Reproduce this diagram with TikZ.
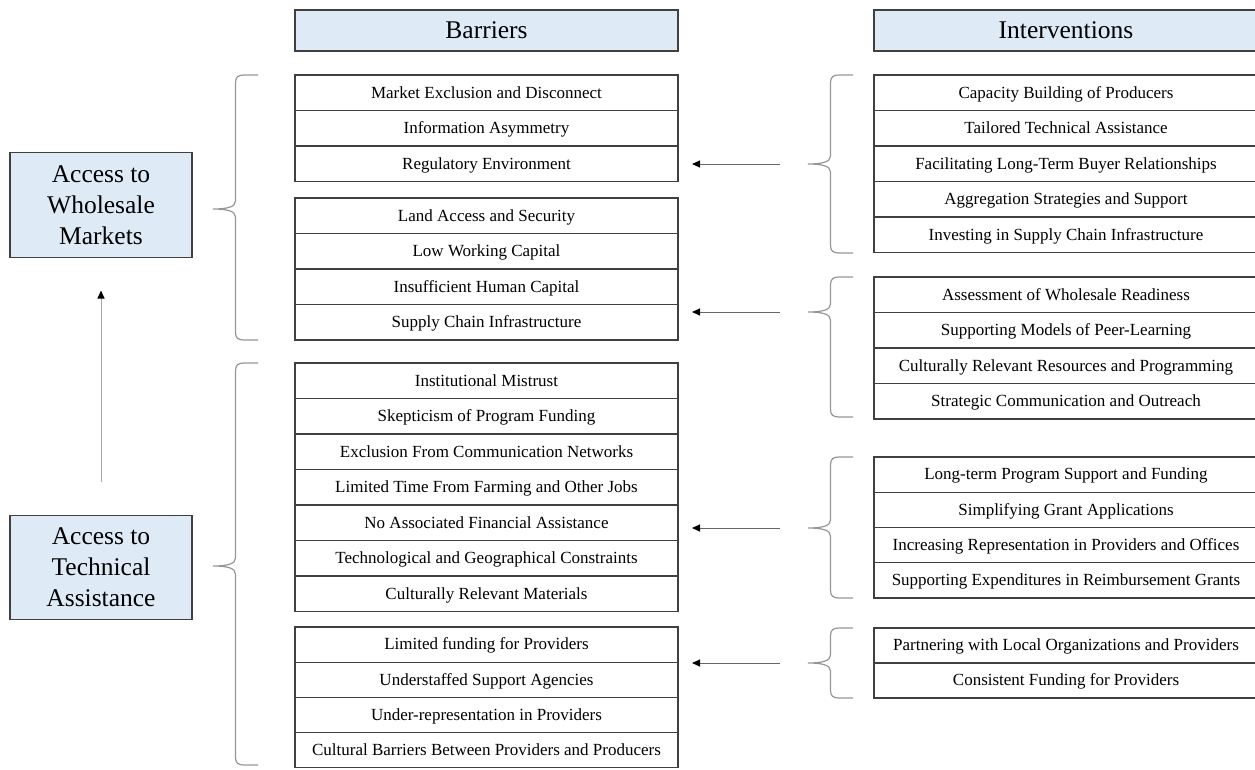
\documentclass[tikz,border=0pt]{standalone}
\usepackage{fontspec}
\setmainfont{Liberation Serif}
\usepackage{xcolor}
\definecolor{headblue}{RGB}{222,235,247}
\definecolor{rulegray}{RGB}{64,64,64}
\definecolor{bracegray}{RGB}{150,150,150}
\usepackage{tikz}
\usetikzlibrary{positioning,arrows.meta,calc}
\tikzset{
  headbox/.style ={rectangle,draw=rulegray,fill=headblue,line width=1.2pt,inner sep=0pt,outer sep=0pt,
                   minimum height=41pt,text height=17.5pt,text depth=1pt,font=\fontsize{25.5}{31}\selectfont},
  access/.style  ={headbox,align=center,minimum width=182pt,minimum height=105pt,text height=,text depth=},
  cell/.style    ={rectangle,draw=rulegray,line width=1.3pt,inner sep=0pt,outer sep=0pt,
                   minimum height=35.5pt,text height=12pt,text depth=1.5pt,font=\fontsize{17}{20}\selectfont},
  barrier/.style ={cell,minimum width=383pt},
  remedy/.style  ={cell,minimum width=384pt},
  bracepath/.style={draw=bracegray,line width=1.2pt},
  push/.style    ={-{Triangle[length=8pt,width=7pt,color=black]},line width=1pt,draw=black!60},
}
% #1 tip name, #2 x of the ends, #3 top, #4 bottom, #5 y of the tip
\newcommand{\openbrace}[5]{%
  \draw[bracepath] (#2,#3) -- (#2-14,#3) .. controls (#2-20,#3) and (#2-22.5,#3+2) .. (#2-22.5,#3+8)
    -- (#2-22.5,#5-8) .. controls (#2-22.5,#5-2) and (#2-31,#5) .. (#2-45,#5)
    .. controls (#2-31,#5) and (#2-22.5,#5+2) .. (#2-22.5,#5+8)
    -- (#2-22.5,#4-8) .. controls (#2-22.5,#4-2) and (#2-20,#4) .. (#2-14,#4) -- (#2,#4);
  \coordinate (#1) at (#2-45,#5);}

\begin{document}
\begin{tikzpicture}[x=1pt,y=-1pt]
  \useasboundingbox (0,0) rectangle (1255,769);

  \node[headbox,minimum width=383pt] (bhead) at (486.5,30.5) {Barriers};
  \node[headbox,minimum width=384pt] (rhead) at (1066,30.5) {Interventions};

  \node[access] (whole) at (101,205) {Access to\\Wholesale\\Markets};
  \node[access,minimum height=104pt] (tech) at (101,567.5) {Access to\\Technical\\Assistance};

  % barriers
  \node[barrier,anchor=north west] (b1) at (295,75) {Market Exclusion and Disconnect};
  \node[barrier,below=0pt of b1] (b2) {Information Asymmetry};
  \node[barrier,below=0pt of b2] (b3) {Regulatory Environment};

  \node[barrier,anchor=north west] (b4) at (295,198) {Land Access and Security};
  \node[barrier,below=0pt of b4] (b5) {Low Working Capital};
  \node[barrier,below=0pt of b5] (b6) {Insufficient Human Capital};
  \node[barrier,below=0pt of b6] (b7) {Supply Chain Infrastructure};

  \node[barrier,anchor=north west] (b8) at (295,363) {Institutional Mistrust};
  \node[barrier,below=0pt of b8] (b9) {Skepticism of Program Funding};
  \node[barrier,below=0pt of b9] (b10) {Exclusion From Communication Networks};
  \node[barrier,below=0pt of b10] (b11) {Limited Time From Farming and Other Jobs};
  \node[barrier,below=0pt of b11] (b12) {No Associated Financial Assistance};
  \node[barrier,below=0pt of b12] (b13) {Technological and Geographical Constraints};
  \node[barrier,below=0pt of b13] (b14) {Culturally Relevant Materials};

  \node[barrier,minimum height=35.2pt,anchor=north west] (b15) at (295,627) {Limited funding for Providers};
  \node[barrier,minimum height=35.2pt,below=0pt of b15] (b16) {Understaffed Support Agencies};
  \node[barrier,minimum height=35.2pt,below=0pt of b16] (b17) {Under-representation in Providers};
  \node[barrier,minimum height=35.2pt,below=0pt of b17] (b18) {Cultural Barriers Between Providers and Producers};

  % interventions
  \node[remedy,anchor=north west] (r1) at (874,75) {Capacity Building of Producers};
  \node[remedy,below=0pt of r1] (r2) {Tailored Technical Assistance};
  \node[remedy,below=0pt of r2] (r3) {Facilitating Long-Term Buyer Relationships};
  \node[remedy,below=0pt of r3] (r4) {Aggregation Strategies and Support};
  \node[remedy,below=0pt of r4] (r5) {Investing in Supply Chain Infrastructure};

  \node[remedy,anchor=north west] (r6) at (874,277) {Assessment of Wholesale Readiness};
  \node[remedy,below=0pt of r6] (r7) {Supporting Models of Peer-Learning};
  \node[remedy,below=0pt of r7] (r8) {Culturally Relevant Resources and Programming};
  \node[remedy,below=0pt of r8] (r9) {Strategic Communication and Outreach};

  \node[remedy,minimum height=35.25pt,anchor=north west] (r10) at (874,457) {Long-term Program Support and Funding};
  \node[remedy,minimum height=35.25pt,below=0pt of r10] (r11) {Simplifying Grant Applications};
  \node[remedy,minimum height=35.25pt,below=0pt of r11] (r12) {Increasing Representation in Providers and Offices};
  \node[remedy,minimum height=35.25pt,below=0pt of r12] (r13) {Supporting Expenditures in Reimbursement Grants};

  \node[remedy,minimum height=35pt,anchor=north west] (r14) at (874,628) {Partnering with Local Organizations and Providers};
  \node[remedy,minimum height=35pt,below=0pt of r14] (r15) {Consistent Funding for Providers};

  % braces
  \openbrace{lt1}{258}{75}{340}{209}
  \openbrace{lt2}{258}{363}{765}{566}
  \openbrace{rt1}{853}{75}{253}{164}
  \openbrace{rt2}{853}{277}{417}{312}
  \openbrace{rt3}{853}{457}{598}{528}
  \openbrace{rt4}{853}{628}{698}{663}

  \draw[push,draw=black!35,shorten <=34pt,shorten >=33pt] (tech.north) -- (whole.south);
  \draw[push,shorten <=28pt,shorten >=14pt] (rt1) -- (rt1 -| b3.east);
  \draw[push,shorten <=28pt,shorten >=14pt] (rt2) -- (rt2 -| b7.east);
  \draw[push,shorten <=28pt,shorten >=14pt] (rt3) -- (rt3 -| b12.east);
  \draw[push,shorten <=28pt,shorten >=14pt] (rt4) -- (rt4 -| b15.east);
\end{tikzpicture}
\end{document}
